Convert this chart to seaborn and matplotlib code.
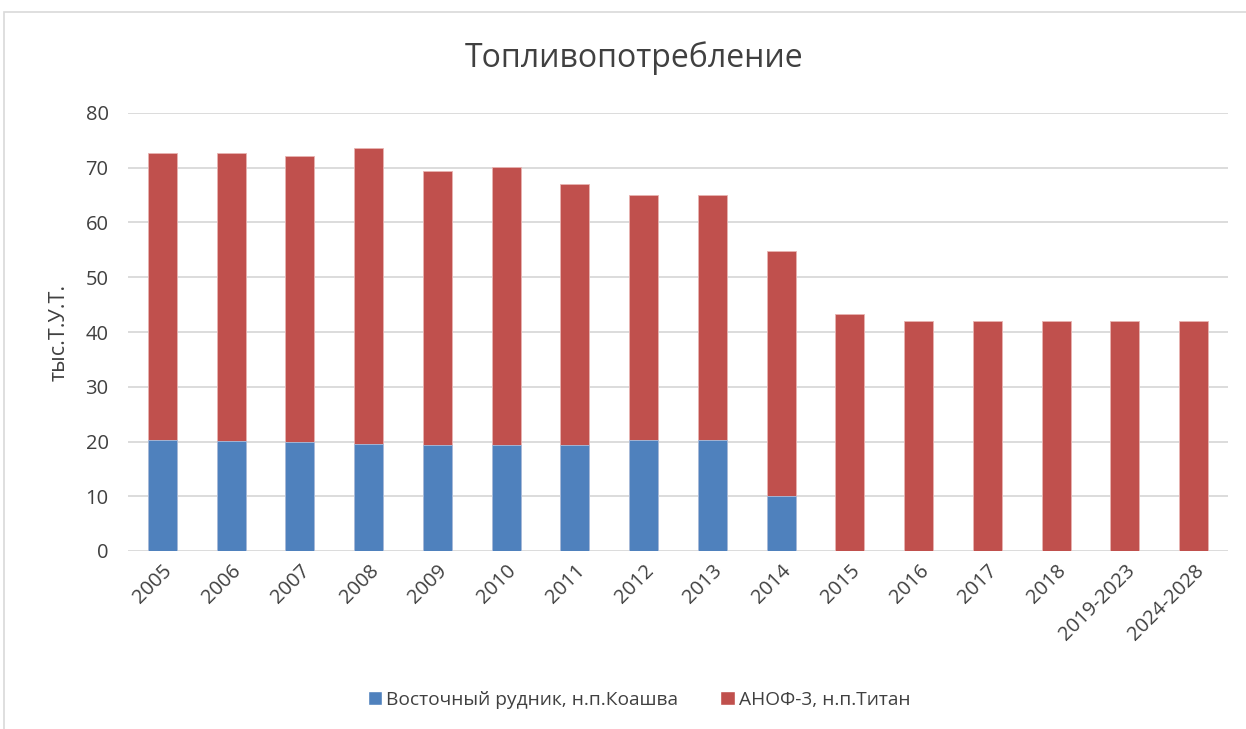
import matplotlib
matplotlib.use("Agg")
import matplotlib.pyplot as plt
import seaborn as sns
import pandas as pd
from matplotlib.patches import Rectangle

periods = ["2005", "2006", "2007", "2008", "2009", "2010", "2011", "2012",
           "2013", "2014", "2015", "2016", "2017", "2018", "2019-2023", "2024-2028"]
vostochny = [20.3, 20.1, 19.9, 19.5, 19.3, 19.4, 19.3, 20.3,
             20.3, 10.1, 0, 0, 0, 0, 0, 0]
anof3 = [52.4, 52.6, 52.2, 54.1, 50.1, 50.7, 47.7, 44.7,
         44.7, 44.7, 43.3, 42.0, 42.0, 42.0, 42.0, 42.0]

series_names = ["Восточный рудник, н.п.Коашва", "АНОФ-3, н.п.Титан"]
colors = ["#4F81BD", "#C0504D"]
text_color = "#404040"

sns.set_theme(style="white")
plt.rcParams["font.family"] = ["Open Sans", "DejaVu Sans"]

df = pd.DataFrame({"period": periods, "vost": vostochny, "anof": anof3})
df["total"] = df["vost"] + df["anof"]

fig = plt.figure(figsize=(12.46, 7.29), dpi=100)
fig.patch.set_facecolor("white")
# chart area frame
fig.add_artist(Rectangle((4 / 1246, -0.1), 1.2, 1 - 12 / 729 + 0.1,
                         transform=fig.transFigure, fill=False,
                         edgecolor="#d9d9d9", linewidth=1.2))

ax = fig.add_axes([128 / 1246, 1 - 551 / 729, 1100 / 1246, 438 / 729])

# stacked bars: upper segment drawn as the full stack, lower segment on top
sns.barplot(data=df, x="period", y="total", color=colors[1], width=0.42,
            saturation=1, edgecolor="#e8b4b2", linewidth=0.6, ax=ax, zorder=3)
sns.barplot(data=df, x="period", y="vost", color=colors[0], width=0.42,
            saturation=1, edgecolor="#a9c0df", linewidth=0.6, ax=ax, zorder=4)

ax.set_ylim(0, 80)
ax.set_xlim(-0.5, len(periods) - 0.5)
ax.set_yticks(range(0, 81, 10))
ax.yaxis.grid(True, color="#d9d9d9", linewidth=1.3, zorder=0)
ax.set_axisbelow(True)
for s in ax.spines.values():
    s.set_visible(False)

ax.tick_params(axis="both", length=0, labelsize=14.5, colors=text_color)
ax.tick_params(axis="y", pad=14)
ax.set_xticks(range(len(periods)))
ax.set_xticklabels(periods, rotation=45, ha="right", rotation_mode="anchor")
ax.tick_params(axis="x", pad=7)

ax.set_xlabel("")
ax.set_ylabel("тыс.Т.У.Т.", fontsize=15.5, color=text_color)
ax.yaxis.set_label_coords(70 / 1246, 1 - 332 / 729, transform=fig.transFigure)

fig.text(634 / 1246, 1 - 58 / 729, "Топливопотребление", ha="center",
         va="center", fontsize=23, color=text_color)

handles = [Rectangle((0, 0), 1, 1, facecolor=c) for c in colors]
fig.legend(handles, series_names, loc="center", bbox_to_anchor=(639 / 1246, 1 - 700 / 729),
           ncol=2, frameon=False, fontsize=13.8, labelcolor=text_color,
           handlelength=0.75, handleheight=0.75, handletextpad=0.2, columnspacing=2.2)

fig.savefig("out.png", dpi=100, facecolor="white")
